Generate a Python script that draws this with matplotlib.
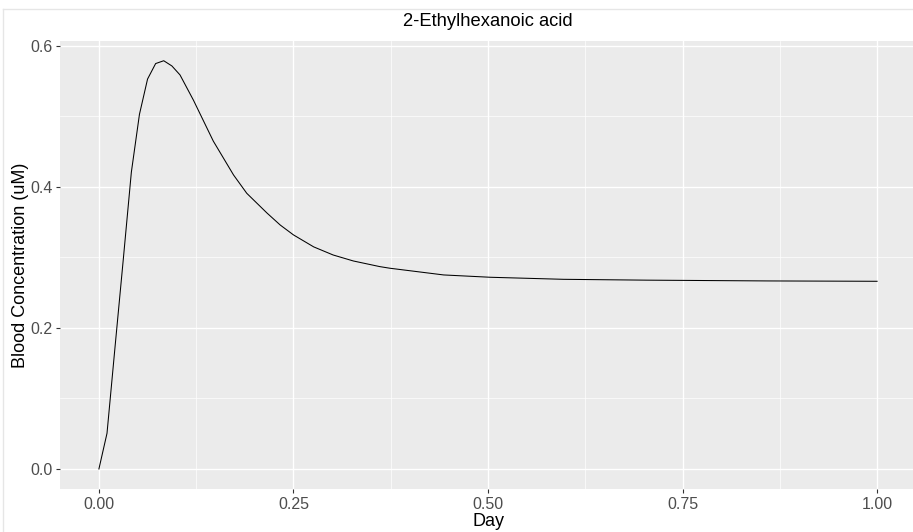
import matplotlib.pyplot as plt
from matplotlib.lines import Line2D

# blood concentration (day, uM)
day = [0.0, 0.0104, 0.0208, 0.0313, 0.0417, 0.0521, 0.0625, 0.0729, 0.0833,
       0.0938, 0.1042, 0.1215, 0.147, 0.173, 0.190, 0.216, 0.233, 0.250,
       0.276, 0.301, 0.327, 0.361, 0.374, 0.443, 0.503, 0.597, 0.704,
       0.860, 1.0]
conc = [0.0, 0.0506, 0.174, 0.297, 0.421, 0.503, 0.553, 0.575, 0.579,
        0.5716, 0.5589, 0.523, 0.465, 0.417, 0.391, 0.363, 0.346, 0.332,
        0.315, 0.3035, 0.295, 0.287, 0.2847, 0.2752, 0.2719, 0.269, 0.2678,
        0.2667, 0.2662]

x_ticks = [0.0, 0.25, 0.5, 0.75, 1.0]
x_labels = ["0.00", "0.25", "0.50", "0.75", "1.00"]
y_ticks = [0.0, 0.2, 0.4, 0.6]
y_labels = ["0.0", "0.2", "0.4", "0.6"]

plt.rcParams['font.family'] = ['Liberation Sans', 'DejaVu Sans']

W, H = 913, 532
fig = plt.figure(figsize=(W / 100, H / 100), dpi=100)
ax = fig.add_axes([60 / W, 43 / H, 856 / W, 448 / H])
ax.set_facecolor("#EBEBEB")

ax.plot(day, conc, color="black", lw=0.75)

ax.set_xlim(-0.05, 1.05)
ax.set_ylim(-0.0284, 0.607)
ax.set_xticks(x_ticks)
ax.set_xticklabels(x_labels)
ax.set_yticks(y_ticks)
ax.set_yticklabels(y_labels)
ax.set_xticks([0.125, 0.375, 0.625, 0.875], minor=True)
ax.set_yticks([0.1, 0.3, 0.5], minor=True)

ax.grid(which="major", color="white", lw=1.0)
ax.grid(which="minor", color="white", lw=0.5)
ax.set_axisbelow(True)
for s in ax.spines.values():
    s.set_visible(False)
ax.tick_params(which="major", length=3, width=0.8, color="#333333",
               labelcolor="#4D4D4D", labelsize=11.5, pad=2.5)
ax.tick_params(which="minor", length=0)

ax.set_xlabel("Day", fontsize=13, labelpad=1)
ax.set_ylabel("Blood Concentration (uM)", fontsize=13, labelpad=1)
fig.text(488 / W, 1 - 21 / H, "2-Ethylhexanoic acid", ha="center", va="center",
         fontsize=13.2)

# faint frame of the original screenshot
fig.add_artist(Line2D([3 / W, 1], [1 - 9 / H, 1 - 9 / H], color="#E6E6E6", lw=1))
fig.add_artist(Line2D([3 / W, 3 / W], [0, 1 - 9 / H], color="#E6E6E6", lw=1))

fig.savefig("out.png", dpi=100)
